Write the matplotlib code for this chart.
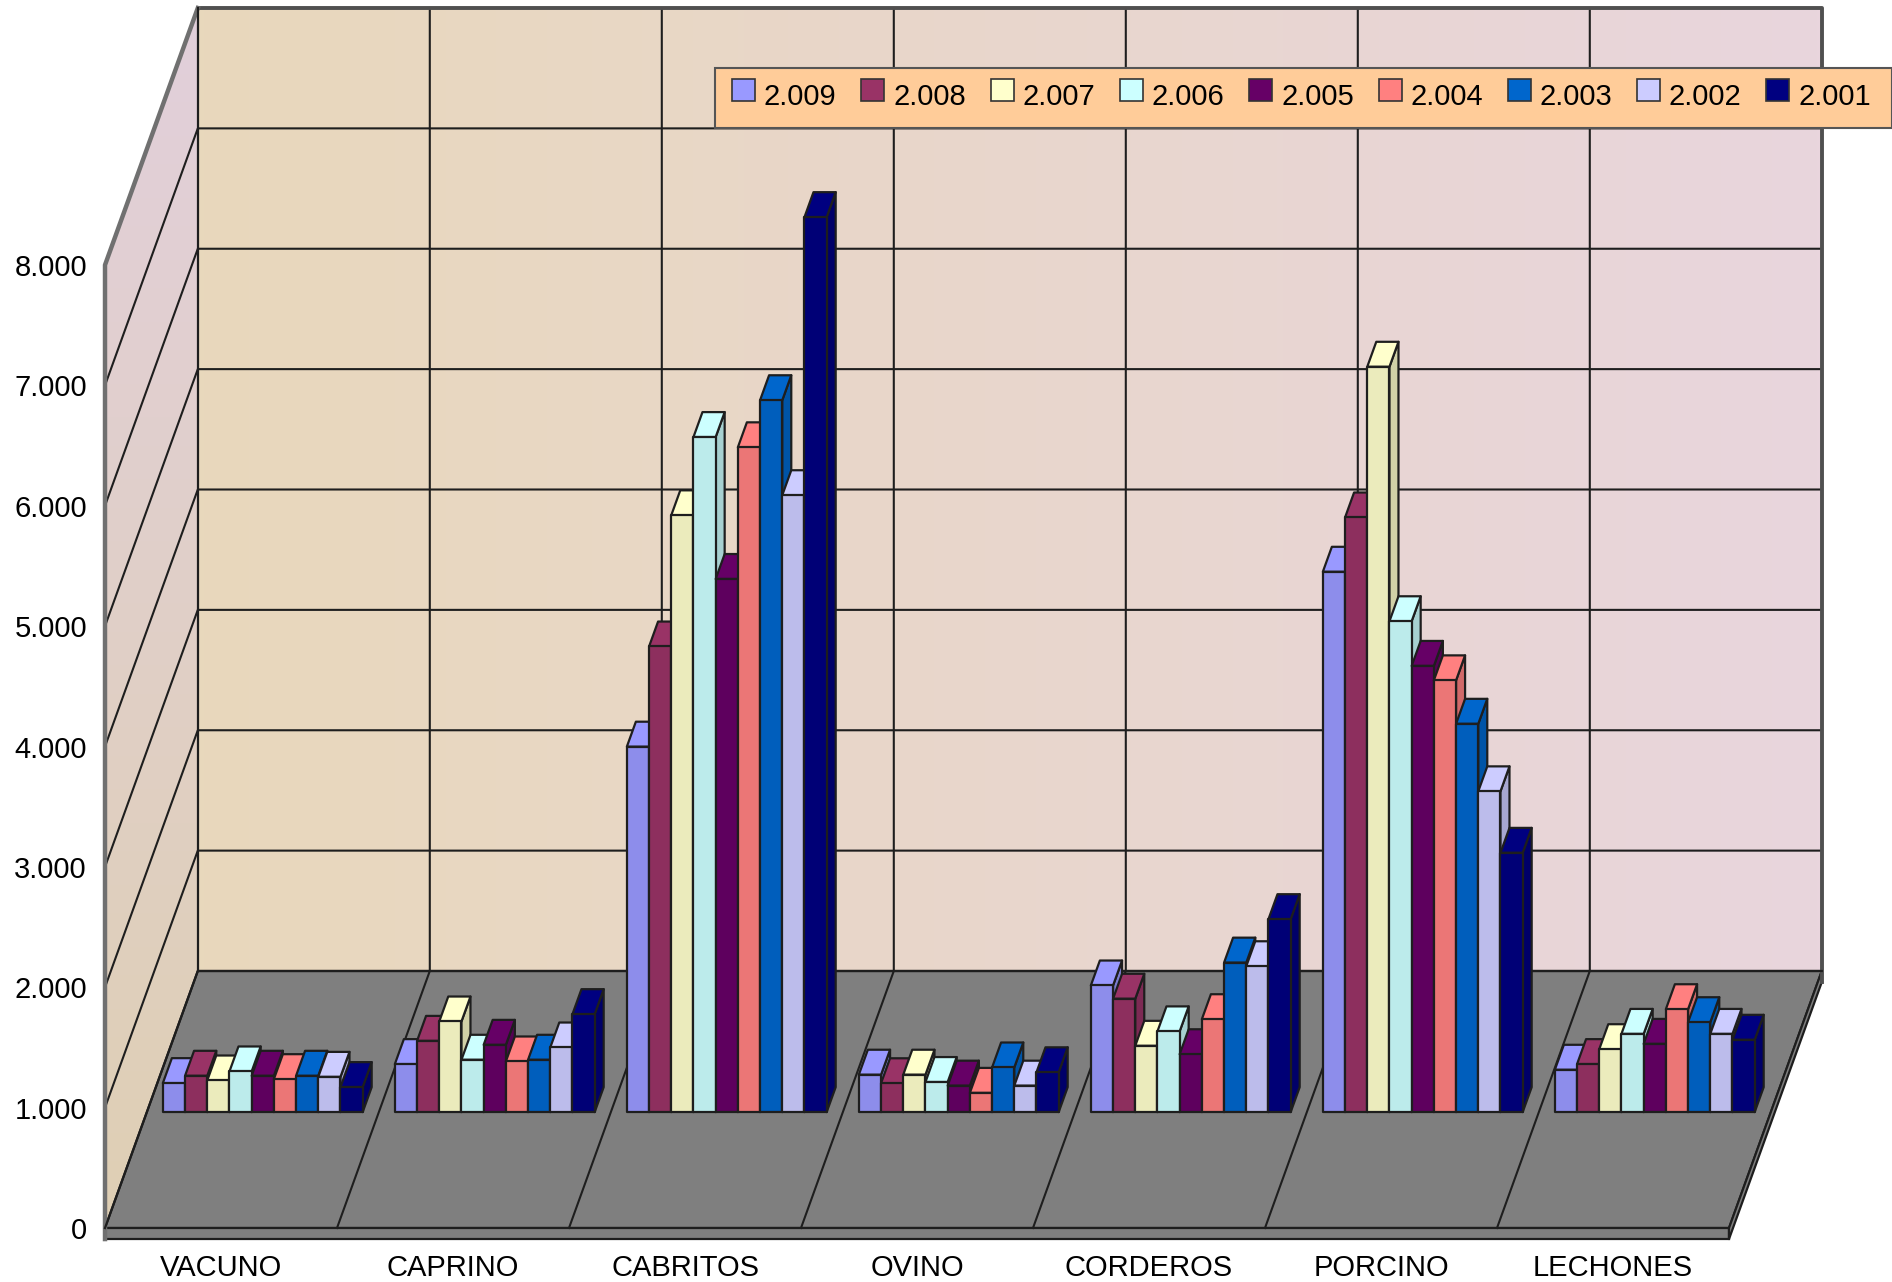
import matplotlib
matplotlib.use('Agg')
import matplotlib.pyplot as plt
import numpy as np
from matplotlib.colors import LinearSegmentedColormap, to_rgb
from matplotlib.legend_handler import HandlerPatch
from matplotlib.patches import Patch, Polygon, Rectangle

plt.rcParams['font.family'] = ['Liberation Sans', 'DejaVu Sans']

categories = ['VACUNO', 'CAPRINO', 'CABRITOS', 'OVINO', 'CORDEROS', 'PORCINO', 'LECHONES']
years = ['2.009', '2.008', '2.007', '2.006', '2.005', '2.004', '2.003', '2.002', '2.001']
colors = ['#9999ff', '#993366', '#ffffcc', '#ccffff', '#660066',
          '#ff8080', '#0066cc', '#ccccff', '#000080']

vacuno = [241, 302, 263, 338, 302, 274, 302, 293, 208]
caprino = [399, 592, 753, 435, 559, 421, 435, 537, 814]
cabritos = [3036, 3868, 4958, 5608, 4429, 5523, 5914, 5125, 7435]
ovino = [311, 240, 311, 250, 220, 160, 371, 220, 331]
corderos = [1052, 942, 551, 671, 481, 772, 1242, 1212, 1603]
porcino = [4489, 4940, 6192, 4078, 3707, 3587, 3226, 2665, 2154]
lechones = [352, 399, 523, 650, 567, 855, 747, 650, 601]
groups = [vacuno, caprino, cabritos, ovino, corderos, porcino, lechones]

# oblique projection: how far the back of the box sits from the front, in data units
depth_x = 0.40
depth_y = 2135
y_top = 8000
front = 0.451   # where the bars stand, as part of the floor depth
bar_depth = 0.097
bar_w = 0.0957
gap = 0.069
plate = 92
line = '#1e1e1e'

fig = plt.figure(figsize=(18.92, 12.82), dpi=100)
ax = fig.add_axes([105 / 1892, 54 / 1282, 1624 / 1892, 963 / 1282])
ax.set_xlim(0, 7)
ax.set_ylim(0, y_top)
ax.set_frame_on(False)


def shade(c, k):
    return tuple(v * k for v in to_rgb(c))


def poly(pts, fc, ec=line, lw=1.6, z=1):
    p = Polygon(pts, closed=True, facecolor=fc, edgecolor=ec, linewidth=lw,
                joinstyle='round', zorder=z, clip_on=False)
    ax.add_patch(p)
    return p


def wall(pts, grad, c1, c2):
    cmap = LinearSegmentedColormap.from_list('w', [c1, c2])
    xs = [p[0] for p in pts]
    ys = [p[1] for p in pts]
    im = ax.imshow(grad, cmap=cmap, aspect='auto', origin='lower', zorder=0,
                   extent=(min(xs), max(xs), min(ys), max(ys)))
    im.set_clip_box(fig.bbox)
    im.set_clip_path(Polygon(pts, closed=True, transform=ax.transData))


back_top = depth_y + y_top
g = np.linspace(0, 1, 256)
wall([(depth_x, depth_y), (7 + depth_x, depth_y), (7 + depth_x, back_top), (depth_x, back_top)],
     g.reshape(1, -1), '#e8d8bc', '#e9d5dd')
wall([(0, 0), (depth_x, depth_y), (depth_x, back_top), (0, y_top)],
     g.reshape(-1, 1), '#dfcfb4', '#e2cfdb')
ax.set_xlim(0, 7)
ax.set_ylim(0, y_top)

# floor and the plate under it
poly([(0, 0), (7, 0), (7 + depth_x, depth_y), (depth_x, depth_y)], '#7f7f7f', z=1)
ax.add_patch(Rectangle((0, -plate), 7, plate, facecolor='#7f7f7f', edgecolor=line,
                       linewidth=1.6, zorder=1, clip_on=False))
poly([(7, 0), (7, -plate), (7 + depth_x, depth_y - plate), (7 + depth_x, depth_y)],
     '#7f7f7f', z=1)

# grid on the walls and floor
for v in range(1000, y_top + 1000, 1000):
    ax.plot([0, depth_x, 7 + depth_x], [v, v + depth_y, v + depth_y], color=line, lw=1.5,
            zorder=2, clip_on=False)
for i in range(1, 7):
    ax.plot([i, i + depth_x, i + depth_x], [0, depth_y, back_top], color=line, lw=1.5,
            zorder=2, clip_on=False)
# frame of the box
ax.plot([depth_x, 7 + depth_x, 7 + depth_x], [back_top, back_top, depth_y - plate],
        color='#505050', lw=2.8, zorder=3, clip_on=False, solid_joinstyle='round')
ax.plot([0, 0, depth_x], [-plate, y_top, back_top], color='#707070', lw=3.2, zorder=3, clip_on=False)
ax.plot([depth_x, depth_x], [depth_y, back_top], color=line, lw=1.6, zorder=3, clip_on=False)
ax.plot([0, depth_x, 7 + depth_x], [0, depth_y, depth_y], color=line, lw=1.6, zorder=3, clip_on=False)

# bars, left to right so each one covers the side of the one before
z = 4
for i, vals in enumerate(groups):
    for j, v in enumerate(vals):
        x0 = i + gap + j * bar_w + front * depth_x
        x1 = x0 + bar_w
        y0 = front * depth_y
        dx = bar_depth * depth_x
        dy = bar_depth * depth_y
        c = colors[j]
        poly([(x1, y0), (x1 + dx, y0 + dy), (x1 + dx, y0 + v + dy), (x1, y0 + v)], shade(c, 0.82), z=z)
        poly([(x0, y0 + v), (x1, y0 + v), (x1 + dx, y0 + v + dy), (x0 + dx, y0 + v + dy)], c, z=z)
        poly([(x0, y0), (x1, y0), (x1, y0 + v), (x0, y0 + v)], shade(c, 0.92), z=z)
        z += 1

ax.set_xticks(np.arange(len(categories)) + 0.5)
ax.set_xticklabels(categories, fontsize=21)
ax.set_yticks(range(0, y_top + 1000, 1000))
ax.set_yticklabels(['0', '1.000', '2.000', '3.000', '4.000', '5.000', '6.000', '7.000', '8.000'],
                   fontsize=21)
ax.tick_params(axis='x', length=0, pad=19)
ax.tick_params(axis='y', length=0, pad=13)

# legend box is its own rectangle so the swatches can sit off centre like the original
fig.add_artist(Rectangle((715 / 1892, 1 - 128 / 1282), 1177 / 1892, 60 / 1282, transform=fig.transFigure,
                         facecolor='#ffcc99', edgecolor='#555555', linewidth=1.5, zorder=90))


def swatch(legend, orig_handle, xdescent, ydescent, width, height, fontsize):
    return Rectangle((0, 3), width, height)


handles = [Patch(facecolor=c, edgecolor='#333333', linewidth=1.2) for c in colors]
leg = fig.legend(handles, years, ncol=9, loc='upper left', bbox_to_anchor=(732 / 1892, 1 - 83 / 1282),
                 borderaxespad=0, fontsize=21, handlelength=0.79, handleheight=0.79,
                 handletextpad=0.30, columnspacing=0.85, borderpad=0, frameon=False,
                 handler_map={Patch: HandlerPatch(patch_func=swatch)})
leg.set_zorder(100)

fig.savefig('out.png', dpi=100)
